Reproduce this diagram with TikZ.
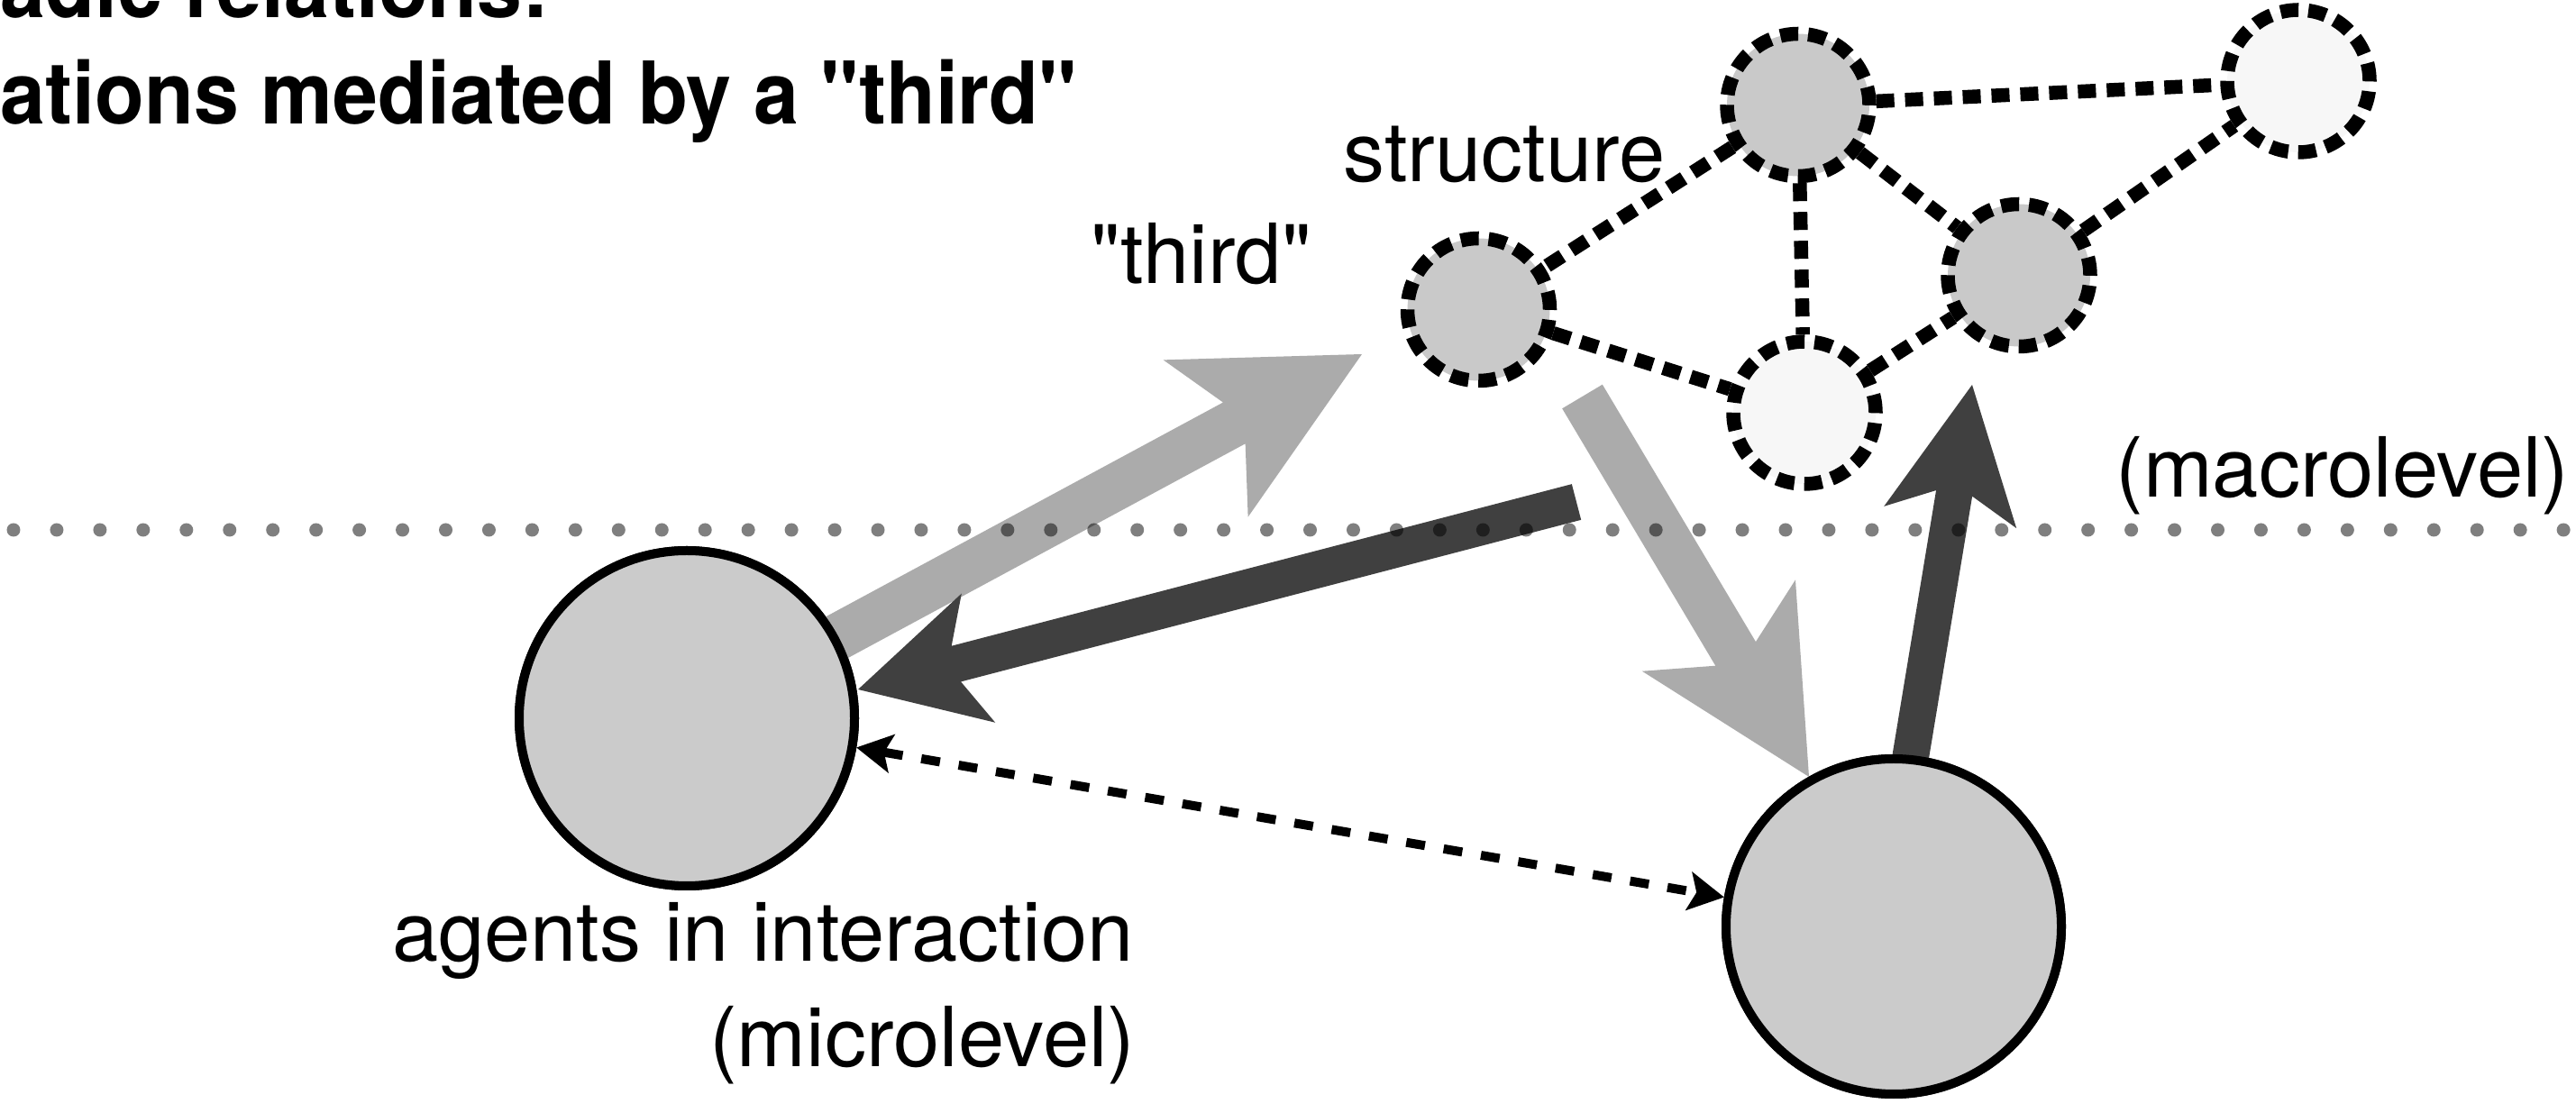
\documentclass[tikz,border=0pt]{standalone}
\usepackage{fontspec}
\setmainfont{TeX Gyre Heros}[Ligatures=TeXOff]
\usepackage{graphicx}
\usetikzlibrary{calc,arrows.meta}
\definecolor{lightarrow}{HTML}{ABABAB}
\definecolor{darkarrow}{HTML}{404040}
\definecolor{agentfill}{HTML}{CBCBCB}
\definecolor{nodegray}{HTML}{C9C9C9}
\definecolor{nodelight}{HTML}{F7F7F7}
% #1 style, #2 tail, #3 tip, #4 half shaft, #5 half head, #6 head length, #7 tip-to-notch distance
\newcommand{\blockarrow}[7]{%
  \coordinate (bab) at ($(#3)!#6!(#2)$);
  \coordinate (ban) at ($(#3)!#7!(#2)$);
  \fill[#1] ($(#2)!#4!90:(#3)$) -- ($(ban)!#4!90:(#3)$) -- ($(bab)!#5!90:(#3)$) -- (#3)
    -- ($(bab)!#5!-90:(#3)$) -- ($(ban)!#4!-90:(#3)$) -- ($(#2)!#4!-90:(#3)$) -- cycle;
}
\begin{document}
\begin{tikzpicture}[
  agent/.style={circle, draw=black, line width=0.1cm, fill=agentfill, minimum size=3.72cm, inner sep=0pt},
  snode/.style={circle, draw=black, line width=0.155cm, dash pattern=on 0.2cm off 0.11cm, minimum size=1.58cm, inner sep=0pt},
  slink/.style={draw=black, line width=0.155cm, dash pattern=on 0.2cm off 0.12cm},
  lbl/.style={inner sep=0pt, font=\fontsize{26.2pt}{30pt}\selectfont},
  ttl/.style={inner sep=0pt, font=\fontsize{27.3pt}{30pt}\selectfont\bfseries},
  interact/.style={line width=0.1cm, dash pattern=on 0.21cm off 0.21cm,
    arrows={Stealth[length=0.40cm,width=0.44cm,inset=0.09cm,line width=0pt]-Stealth[length=0.40cm,width=0.44cm,inset=0.09cm,line width=0pt]}},
  leveldot/.style={fill=black, fill opacity=0.5}
]
\useasboundingbox (0,0) rectangle (28.58,12.24);

% agents
\node[agent] (A) at (7.62,4.27) {};
\node[agent] (B) at (21.01,1.96) {};

% arrow end points
\coordinate (t1) at (15.11,8.31);
\coordinate (s2) at (17.49,6.67);
\coordinate (t2) at (9.52,4.59);
\coordinate (s3) at (17.555,7.84);
\coordinate (t3) at (20.07,3.62);
\coordinate (s4) at (20.966,2.445);
\coordinate (t4) at (21.88,7.97);

% block arrows
\blockarrow{lightarrow}{A.center}{t1}{0.26cm}{0.99cm}{1.97cm}{1.61cm}
\blockarrow{lightarrow}{s3}{t3}{0.26cm}{0.99cm}{1.955cm}{1.59cm}
\blockarrow{darkarrow}{s2}{t2}{0.205cm}{0.74cm}{1.38cm}{1.125cm}
\blockarrow{darkarrow}{s4}{t4}{0.203cm}{0.745cm}{1.49cm}{1.22cm}

% redraw agents on top of arrow tails
\node[agent] at (A.center) {};
\node[agent] at (B.center) {};

% interaction
\draw[interact] (A) -- (B);

% structure
\node[snode, fill=nodegray]  (n1) at (19.95,11.075) {};
\node[snode, fill=nodelight] (n2) at (25.50,11.34) {};
\node[snode, fill=nodegray]  (n3) at (16.405,8.805) {};
\node[snode, fill=nodegray]  (n4) at (22.40,9.185) {};
\node[snode, fill=nodelight] (n5) at (20.02,7.66) {};
\draw[slink] (n1) -- (n2);
\draw[slink] (n1) -- (n3);
\draw[slink] (n1) -- (n4);
\draw[slink] (n1) -- (n5);
\draw[slink] (n3) -- (n5);
\draw[slink] (n5) -- (n4);
\draw[slink] (n4) -- (n2);

% level separator
\foreach \i in {0,...,59} \fill[leveldot] ({0.15+0.4795*\i},6.36) circle (0.075);

% labels
\node[lbl, anchor=base west] (lstructure) at (14.90,10.22) {structure};
\node[lbl, anchor=base west] (lthird) at (12.10,9.09) {"third"};
\node[lbl, anchor=base east] (lmacro) at (28.51,6.72) {(macrolevel)};
\node[lbl, anchor=base east] (lagents) at (12.58,1.57) {agents in interaction};
\node[lbl, anchor=base east] (lmicro) at (12.60,0.40) {(microlevel)};

% title
\node[ttl, anchor=base west] (title1) at (0,12.04) {\scalebox{0.935}[1]{adic relations:}};
\node[ttl, anchor=base west] (title2) at (0,10.86) {\scalebox{0.935}[1]{ations mediated by a "third"}};
\end{tikzpicture}
\end{document}
